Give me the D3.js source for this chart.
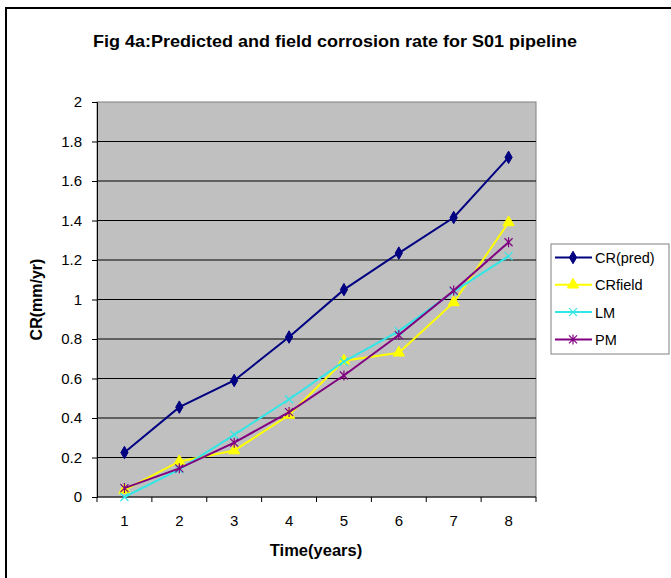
<!DOCTYPE html>
<html>
<head>
<meta charset="utf-8">
<script src="https://cdn.jsdelivr.net/npm/d3@7"></script>
<style>
  body { margin: 0; background: #fff; }
  text { font-family: Arial, "Liberation Sans", sans-serif; }
</style>
</head>
<body>
<svg id="chart" width="671" height="578"></svg>
<script>
// data
var years = [1, 2, 3, 4, 5, 6, 7, 8];
var crPred = [0.225, 0.455, 0.59, 0.81, 1.05, 1.235, 1.415, 1.72];
var crField = [0.035, 0.18, 0.235, 0.415, 0.69, 0.73, 0.985, 1.39];
var lm = [0.0, 0.14, 0.315, 0.495, 0.685, 0.84, 1.04, 1.22];
var pm = [0.045, 0.145, 0.275, 0.43, 0.615, 0.82, 1.045, 1.29];
var yTicks = [0, 0.2, 0.4, 0.6, 0.8, 1, 1.2, 1.4, 1.6, 1.8, 2];

var series = [
    { name: "CR(pred)", values: crPred, color: "#000080", marker: "diamond" },
    { name: "CRfield", values: crField, color: "#FFFF00", marker: "triangle" },
    { name: "LM", values: lm, color: "#33E6E6", marker: "cross" },
    { name: "PM", values: pm, color: "#800080", marker: "star" }
];

var svg = d3.select("#chart");

// outer frame (left + top edges visible)
svg.append("path")
    .attr("d", "M6,578 V8 H671")
    .attr("fill", "none")
    .attr("stroke", "#000")
    .attr("stroke-width", 2);

// title
svg.append("text")
    .attr("x", 335)
    .attr("y", 47)
    .attr("text-anchor", "middle")
    .attr("font-size", 17)
    .attr("font-weight", "bold")
    .attr("textLength", 484)
    .attr("lengthAdjust", "spacingAndGlyphs")
    .text("Fig 4a:Predicted and field corrosion rate for S01 pipeline");

var plot = { left: 97, top: 102, right: 536, bottom: 497 };

var x = d3.scaleBand()
    .domain(years)
    .range([plot.left, plot.right]);

var y = d3.scaleLinear()
    .domain([0, 2])
    .range([plot.bottom, plot.top]);

// plot area background
svg.append("rect")
    .attr("x", plot.left)
    .attr("y", plot.top)
    .attr("width", plot.right - plot.left)
    .attr("height", plot.bottom - plot.top)
    .attr("fill", "#C0C0C0")
    .attr("stroke", "#808080")
    .attr("stroke-width", 1);

// horizontal gridlines
svg.append("g")
    .selectAll("line")
    .data(yTicks.filter(function(d) { return d > 0 && d < 2; }))
    .enter().append("line")
    .attr("x1", plot.left)
    .attr("x2", plot.right)
    .attr("y1", function(d) { return y(d); })
    .attr("y2", function(d) { return y(d); })
    .attr("stroke", "#000")
    .attr("stroke-width", 1);

// y axis
var yAxis = svg.append("g")
    .attr("transform", "translate(" + plot.left + ",0)")
    .call(d3.axisLeft(y).tickValues(yTicks).tickSize(5).tickPadding(10).tickFormat(d3.format("~g")));
yAxis.select(".domain").attr("stroke", "#000");
yAxis.selectAll("text")
    .attr("font-size", 15)
    .attr("font-family", "Arial, 'Liberation Sans', sans-serif")
    .attr("fill", "#000");

// x axis: ticks between categories, Excel style
var xAxis = svg.append("g")
    .attr("transform", "translate(0," + plot.bottom + ")");
xAxis.append("line")
    .attr("x1", plot.left)
    .attr("x2", plot.right)
    .attr("stroke", "#000");
xAxis.selectAll("line.tick")
    .data(d3.range(years.length + 1))
    .enter().append("line")
    .attr("class", "tick")
    .attr("x1", function(i) { return plot.left + i * x.bandwidth(); })
    .attr("x2", function(i) { return plot.left + i * x.bandwidth(); })
    .attr("y1", 0)
    .attr("y2", 5)
    .attr("stroke", "#000");
xAxis.selectAll("text")
    .data(years)
    .enter().append("text")
    .attr("x", function(d) { return x(d) + x.bandwidth() / 2; })
    .attr("y", 29)
    .attr("text-anchor", "middle")
    .attr("font-size", 15)
    .text(function(d) { return d; });

// axis titles
svg.append("text")
    .attr("x", 316)
    .attr("y", 556)
    .attr("text-anchor", "middle")
    .attr("font-size", 16.5)
    .attr("font-weight", "bold")
    .text("Time(years)");

svg.append("text")
    .attr("transform", "translate(42," + ((plot.top + plot.bottom) / 2) + ") rotate(-90)")
    .attr("text-anchor", "middle")
    .attr("font-size", 16)
    .attr("font-weight", "bold")
    .text("CR(mm/yr)");

// marker shapes
function markerPath(type) {
    if (type === "diamond") return d3.symbol().type(d3.symbolDiamond).size(45)();
    if (type === "triangle") return d3.symbol().type(d3.symbolTriangle).size(55)();
    if (type === "cross") return "M-4,-4L4,4M-4,4L4,-4";
    return "M-4,-4L4,4M-4,4L4,-4M0,-5V5";
}

function drawMarker(g, s) {
    var p = g.append("path").attr("d", markerPath(s.marker));
    if (s.marker === "diamond" || s.marker === "triangle") {
        p.attr("fill", s.color).attr("stroke", s.color).attr("stroke-width", 1);
    } else {
        p.attr("fill", "none").attr("stroke", s.color).attr("stroke-width", 1.2);
    }
}

var line = d3.line()
    .x(function(d, i) { return x(years[i]) + x.bandwidth() / 2; })
    .y(function(d) { return y(d); });

series.forEach(function(s) {
    var g = svg.append("g");
    g.append("path")
        .attr("d", line(s.values))
        .attr("fill", "none")
        .attr("stroke", s.color)
        .attr("stroke-width", 2);
    g.selectAll("g.pt")
        .data(s.values)
        .enter().append("g")
        .attr("class", "pt")
        .attr("transform", function(d, i) {
            return "translate(" + (x(years[i]) + x.bandwidth() / 2) + "," + y(d) + ")";
        })
        .each(function() { drawMarker(d3.select(this), s); });
});

// legend
var legend = svg.append("g");
legend.append("rect")
    .attr("x", 551)
    .attr("y", 244)
    .attr("width", 118)
    .attr("height", 110)
    .attr("fill", "#fff")
    .attr("stroke", "#808080");

var entry = legend.selectAll("g.entry")
    .data(series)
    .enter().append("g")
    .attr("class", "entry")
    .attr("transform", function(d, i) { return "translate(0," + (257.5 + i * 27.3) + ")"; });

entry.append("line")
    .attr("x1", 555)
    .attr("x2", 592)
    .attr("stroke", function(d) { return d.color; })
    .attr("stroke-width", 2);
entry.append("g")
    .attr("transform", "translate(573,0)")
    .each(function(d) { drawMarker(d3.select(this), d); });
entry.append("text")
    .attr("x", 595)
    .attr("y", 5.5)
    .attr("font-size", 14.5)
    .text(function(d) { return d.name; });
</script>
</body>
</html>
